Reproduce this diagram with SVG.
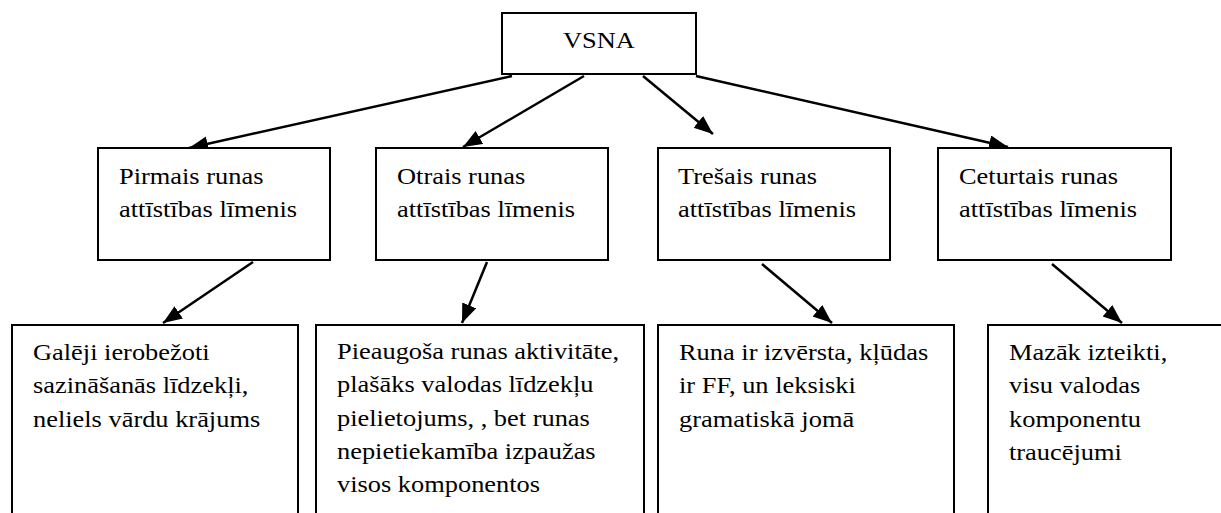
<svg xmlns="http://www.w3.org/2000/svg" width="1221" height="513" viewBox="0 0 1221 513">
<style>
.box{fill:#fff;stroke:#000;stroke-width:2}
.lbl{font-size:24px;fill:#000}
.conn{stroke:#000;stroke-width:2.5;fill:none;marker-end:url(#ah)}
</style>
<defs>
<marker id="ah" markerUnits="userSpaceOnUse" markerWidth="20" markerHeight="16" refX="19" refY="7.5" orient="auto">
<path d="M0,0 L19,7.5 L0,15 z" fill="#000"/>
</marker>
</defs>
<rect width="1221" height="513" fill="#fff"/>
<g id="connectors">
<line class="conn" x1="512" y1="76" x2="189" y2="148"/>
<line class="conn" x1="584" y1="76" x2="463" y2="147"/>
<line class="conn" x1="643" y1="76" x2="713" y2="134"/>
<line class="conn" x1="696" y1="76" x2="1008" y2="147"/>
<line class="conn" x1="253" y1="262" x2="163" y2="323"/>
<line class="conn" x1="487" y1="262" x2="462" y2="323"/>
<line class="conn" x1="762" y1="264" x2="832" y2="323"/>
<line class="conn" x1="1052" y1="264" x2="1122" y2="323"/>
</g>
<g font-family="Liberation Serif, Times New Roman, serif">
<g id="vsna">
<rect class="box" x="502" y="13" width="194" height="61"/>
<g transform="translate(563,48) scale(1.1 1)"><text class="lbl" x="0" y="0">VSNA</text></g>
</g>
<g id="level1">
<rect class="box" x="98" y="148" width="232" height="112"/>
<g transform="translate(119,184) scale(1.1 1)"><text class="lbl"><tspan x="0" y="0">Pirmais runas</tspan><tspan x="0" y="33">attīstības līmenis</tspan></text></g>
</g>
<g id="level2">
<rect class="box" x="376" y="148" width="232" height="112"/>
<g transform="translate(397,184) scale(1.1 1)"><text class="lbl"><tspan x="0" y="0">Otrais runas</tspan><tspan x="0" y="33">attīstības līmenis</tspan></text></g>
</g>
<g id="level3">
<rect class="box" x="658" y="148" width="232" height="112"/>
<g transform="translate(678,184) scale(1.1 1)"><text class="lbl"><tspan x="0" y="0">Trešais runas</tspan><tspan x="0" y="33">attīstības līmenis</tspan></text></g>
</g>
<g id="level4">
<rect class="box" x="938" y="148" width="233" height="112"/>
<g transform="translate(959,184) scale(1.1 1)"><text class="lbl"><tspan x="0" y="0">Ceturtais runas</tspan><tspan x="0" y="33">attīstības līmenis</tspan></text></g>
</g>
<g id="desc1">
<rect class="box" x="12" y="325" width="286" height="220"/>
<g transform="translate(33,360) scale(1.1 1)"><text class="lbl"><tspan x="0" y="0">Galēji ierobežoti</tspan><tspan x="0" y="33.3">sazināšanās līdzekļi,</tspan><tspan x="0" y="66.6">neliels vārdu krājums</tspan></text></g>
</g>
<g id="desc2">
<rect class="box" x="316" y="325" width="328" height="220"/>
<g transform="translate(337,359) scale(1.1 1)"><text class="lbl"><tspan x="0" y="0">Pieaugoša runas aktivitāte,</tspan><tspan x="0" y="33.3">plašāks valodas līdzekļu</tspan><tspan x="0" y="66.6">pielietojums, , bet runas</tspan><tspan x="0" y="99.9">nepietiekamība izpaužas</tspan><tspan x="0" y="133.2">visos komponentos</tspan></text></g>
</g>
<g id="desc3">
<rect class="box" x="658" y="325" width="296" height="220"/>
<g transform="translate(679,360) scale(1.1 1)"><text class="lbl"><tspan x="0" y="0">Runa ir izvērsta, kļūdas</tspan><tspan x="0" y="33.3">ir FF, un leksiski</tspan><tspan x="0" y="66.6">gramatiskā jomā</tspan></text></g>
</g>
<g id="desc4">
<rect class="box" x="988" y="325" width="260" height="220"/>
<g transform="translate(1009,360) scale(1.1 1)"><text class="lbl"><tspan x="0" y="0">Mazāk izteikti,</tspan><tspan x="0" y="33.3">visu valodas</tspan><tspan x="0" y="66.6">komponentu</tspan><tspan x="0" y="99.9">traucējumi</tspan></text></g>
</g>
</g>
</svg>
